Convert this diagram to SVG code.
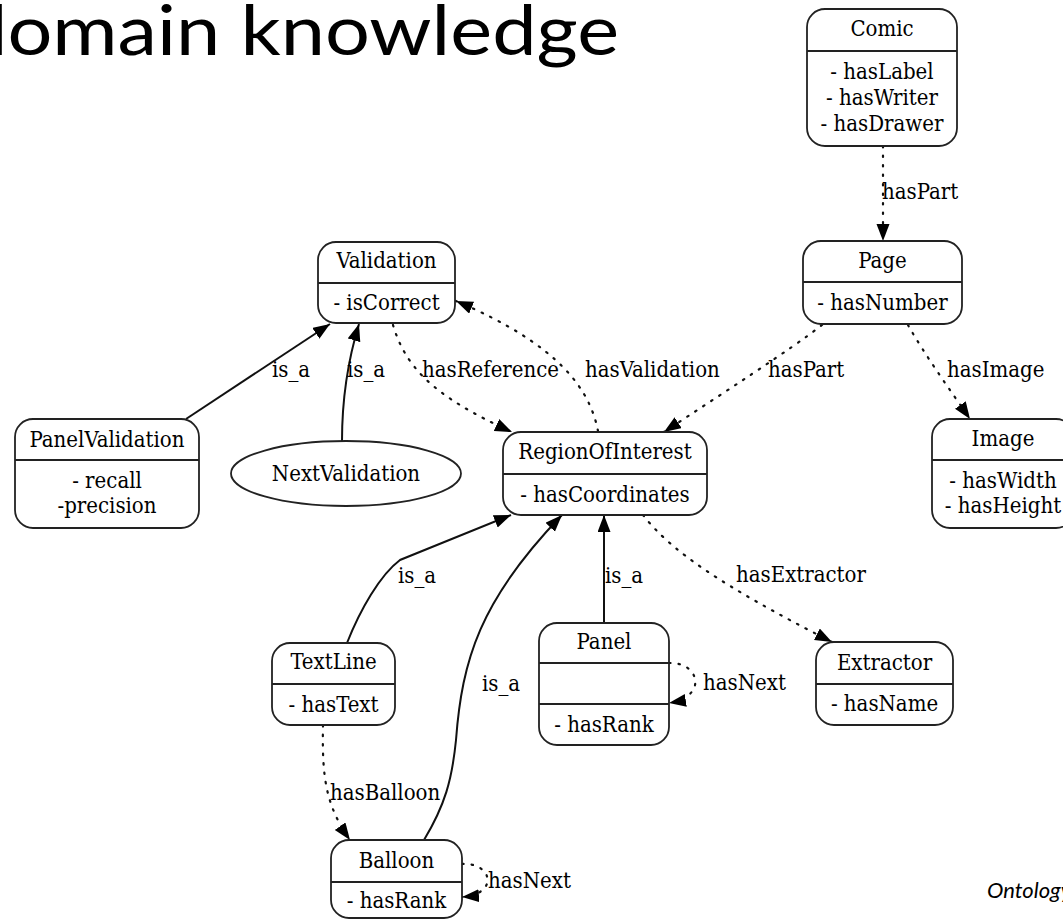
<svg xmlns="http://www.w3.org/2000/svg" width="1063" height="920" viewBox="0 0 1063 920">
<style>
.box{fill:#fff;stroke:#222;stroke-width:1.8}
.sep{stroke:#222;stroke-width:1.8}
.t{font-family:'DejaVu Serif Condensed','DejaVu Serif',serif;font-stretch:condensed;font-size:22px;fill:#000}
.n{text-anchor:middle}
.solid{fill:none;stroke:#111;stroke-width:2}
.dot{fill:none;stroke:#111;stroke-width:2.2;stroke-dasharray:1.5 8;stroke-linecap:round}
</style>
<defs>
<marker id="ah" markerUnits="userSpaceOnUse" markerWidth="18" markerHeight="14" refX="17" refY="6.5" orient="auto">
<path d="M0,0 L17,6.5 L0,13 z" fill="#000"/>
</marker>
</defs>
<rect width="1063" height="920" fill="#fff"/>
<text x="-37" y="55" font-family="Lato, 'Open Sans', sans-serif" font-size="70" textLength="656" lengthAdjust="spacingAndGlyphs" fill="#000">domain knowledge</text>
<text x="987" y="898" font-family="Lato, 'Open Sans', sans-serif" font-size="22" font-style="italic" fill="#000">Ontology</text>

<g id="connectors">
<path class="dot" d="M883,146 L883,241" marker-end="url(#ah)"/>
<path class="solid" d="M186,419 L330,324" marker-end="url(#ah)"/>
<path class="solid" d="M342,441 C342,400 348,360 359,324" marker-end="url(#ah)"/>
<path class="dot" d="M393,325 C405,365 430,395 512,432" marker-end="url(#ah)"/>
<path class="dot" d="M598,431 C590,390 560,345 456,301" marker-end="url(#ah)"/>
<path class="dot" d="M822,325 C790,350 720,395 664,432" marker-end="url(#ah)"/>
<path class="dot" d="M908,325 C925,355 950,390 970,419" marker-end="url(#ah)"/>
<path class="solid" d="M347,643 C360,610 380,575 400,560 L511,515" marker-end="url(#ah)"/>
<path class="solid" d="M424,840 C445,805 452,780 456,740 C462,660 480,600 562,515" marker-end="url(#ah)"/>
<path class="solid" d="M604,623 L604,515" marker-end="url(#ah)"/>
<path class="dot" d="M643,515 C670,550 720,585 832,642" marker-end="url(#ah)"/>
<path class="dot" d="M669,663 C700,662 708,697 669,703" marker-end="url(#ah)"/>
<path class="dot" d="M323,725 C322,775 325,805 350,840" marker-end="url(#ah)"/>
<path class="dot" d="M462,864 C492,862 500,894 462,897" marker-end="url(#ah)"/>
<text class="t" x="882" y="199">hasPart</text>
<text class="t" x="272" y="377">is_a</text>
<text class="t" x="347" y="377">is_a</text>
<text class="t" x="422" y="377">hasReference</text>
<text class="t" x="585" y="377">hasValidation</text>
<text class="t" x="768" y="377">hasPart</text>
<text class="t" x="947" y="377">hasImage</text>
<text class="t" x="398" y="583">is_a</text>
<text class="t" x="605" y="583">is_a</text>
<text class="t" x="482" y="691">is_a</text>
<text class="t" x="736" y="582">hasExtractor</text>
<text class="t" x="703" y="690">hasNext</text>
<text class="t" x="330" y="800">hasBalloon</text>
<text class="t" x="488" y="888">hasNext</text>
</g>

<g id="Comic">
<rect class="box" x="807" y="9" width="150" height="137" rx="18"/>
<line class="sep" x1="807" y1="51" x2="957" y2="51"/>
<text class="t n" x="882" y="36">Comic</text>
<text class="t n" x="882" y="79">- hasLabel</text>
<text class="t n" x="882" y="105">- hasWriter</text>
<text class="t n" x="882" y="131">- hasDrawer</text>
</g>
<g id="Page">
<rect class="box" x="803" y="241" width="159" height="83" rx="18"/>
<line class="sep" x1="803" y1="282" x2="962" y2="282"/>
<text class="t n" x="882.5" y="268">Page</text>
<text class="t n" x="882.5" y="310">- hasNumber</text>
</g>
<g id="Validation">
<rect class="box" x="318" y="242" width="137" height="81" rx="18"/>
<line class="sep" x1="318" y1="283" x2="455" y2="283"/>
<text class="t n" x="386.5" y="268">Validation</text>
<text class="t n" x="386.5" y="310">- isCorrect</text>
</g>
<g id="PanelValidation">
<rect class="box" x="15" y="419" width="184" height="109" rx="18"/>
<line class="sep" x1="15" y1="460" x2="199" y2="460"/>
<text class="t n" x="107" y="447">PanelValidation</text>
<text class="t n" x="107" y="488">- recall</text>
<text class="t n" x="107" y="513">-precision</text>
</g>
<g id="NextValidation">
<ellipse class="box" cx="346" cy="473.5" rx="115" ry="32.5"/>
<text class="t n" x="346" y="481">NextValidation</text>
</g>
<g id="RegionOfInterest">
<rect class="box" x="503" y="432" width="204" height="83" rx="18"/>
<line class="sep" x1="503" y1="474" x2="707" y2="474"/>
<text class="t n" x="605" y="459">RegionOfInterest</text>
<text class="t n" x="605" y="502">- hasCoordinates</text>
</g>
<g id="Image">
<rect class="box" x="932" y="419" width="142" height="109" rx="18"/>
<line class="sep" x1="932" y1="460" x2="1074" y2="460"/>
<text class="t n" x="1003" y="446">Image</text>
<text class="t n" x="1003" y="488">- hasWidth</text>
<text class="t n" x="1003" y="513">- hasHeight</text>
</g>
<g id="TextLine">
<rect class="box" x="272" y="643" width="123" height="82" rx="18"/>
<line class="sep" x1="272" y1="684" x2="395" y2="684"/>
<text class="t n" x="333.5" y="669">TextLine</text>
<text class="t n" x="333.5" y="712">- hasText</text>
</g>
<g id="Panel">
<rect class="box" x="539" y="623" width="130" height="122" rx="18"/>
<line class="sep" x1="539" y1="663" x2="669" y2="663"/>
<line class="sep" x1="539" y1="704" x2="669" y2="704"/>
<text class="t n" x="604" y="649">Panel</text>
<text class="t n" x="604" y="732">- hasRank</text>
</g>
<g id="Extractor">
<rect class="box" x="816" y="642" width="137" height="83" rx="18"/>
<line class="sep" x1="816" y1="684" x2="953" y2="684"/>
<text class="t n" x="884.5" y="670">Extractor</text>
<text class="t n" x="884.5" y="711">- hasName</text>
</g>
<g id="Balloon">
<rect class="box" x="331" y="840" width="131" height="78" rx="18"/>
<line class="sep" x1="331" y1="882" x2="462" y2="882"/>
<text class="t n" x="396.5" y="868">Balloon</text>
<text class="t n" x="396.5" y="908">- hasRank</text>
</g>
</svg>
